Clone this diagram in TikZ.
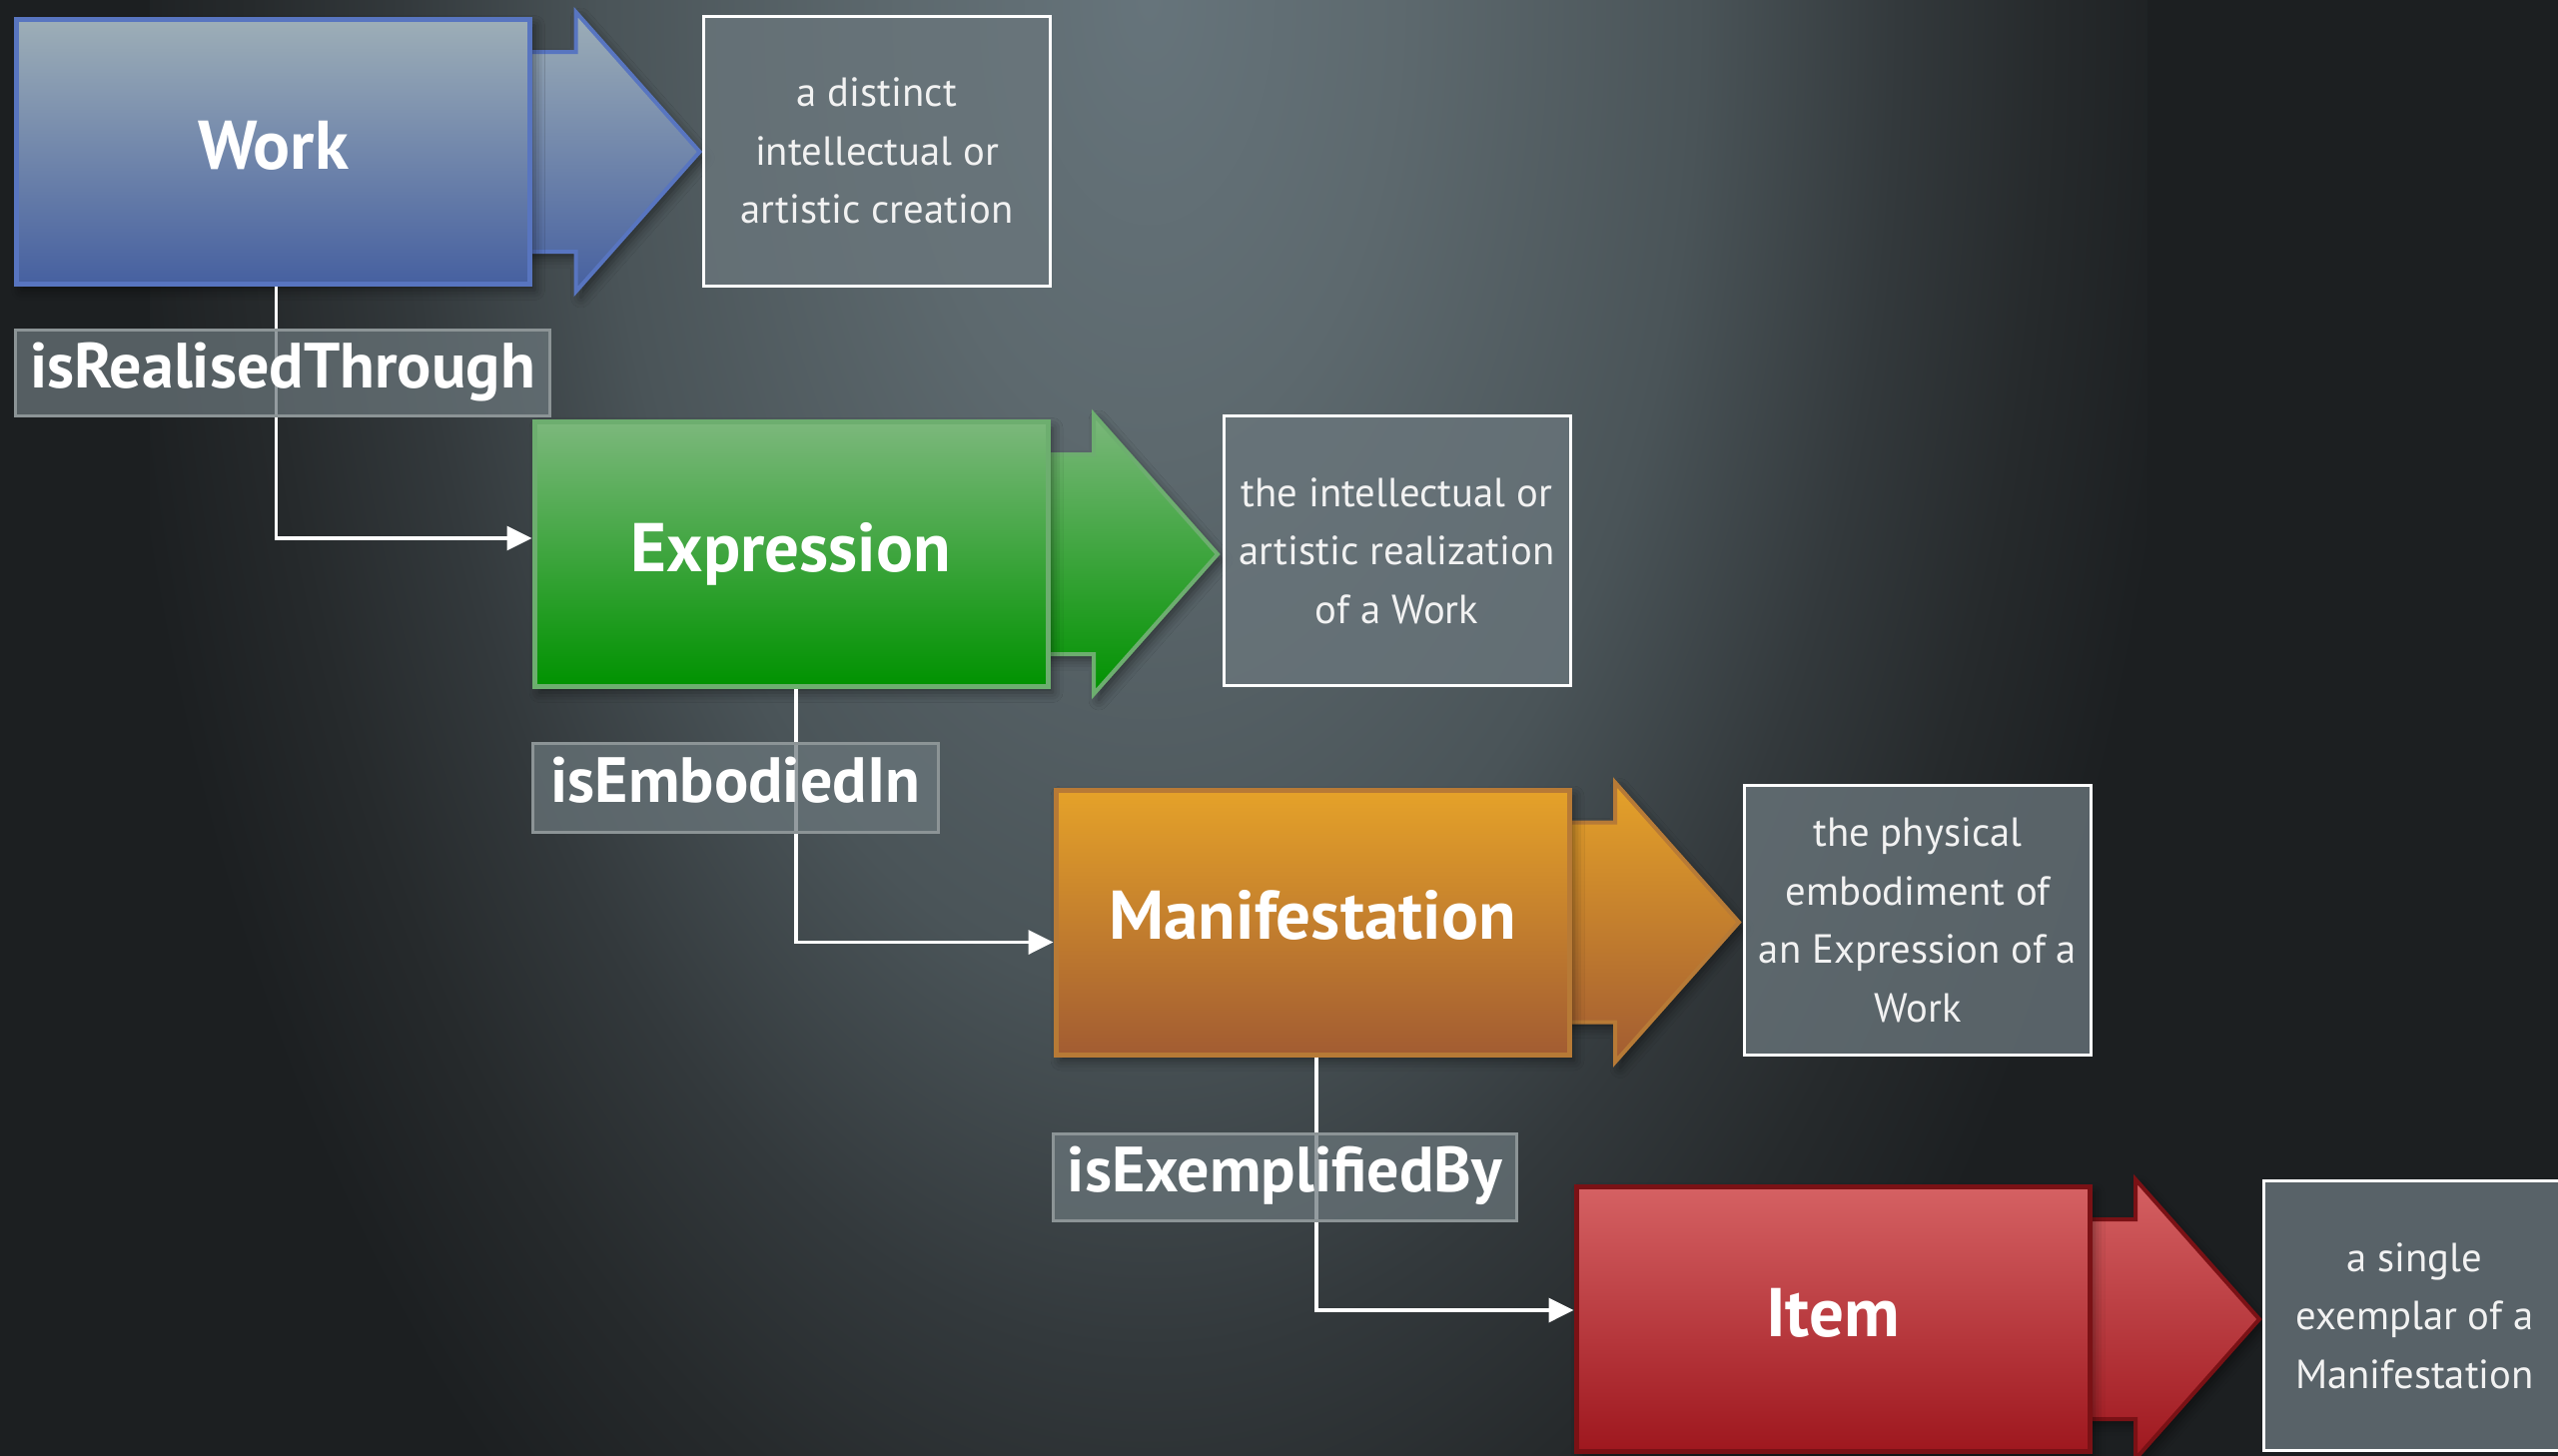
\documentclass[tikz,border=0pt]{standalone}
\usepackage{fontspec}
\setmainfont{PT Sans}
\usetikzlibrary{arrows.meta,calc,shadows.blur}
\definecolor{bgA}{HTML}{66747B}
\definecolor{bgB}{HTML}{5D696E}
\definecolor{bgC}{HTML}{4A5458}
\definecolor{bgD}{HTML}{33393C}
\definecolor{bgE}{HTML}{262A2C}
\definecolor{bgF}{HTML}{1C1F21}
\pgfdeclareradialshading{bglight}{\pgfpoint{0bp}{0bp}}{color(0bp)=(bgA); color(6.25bp)=(bgB); color(13.75bp)=(bgC); color(18.75bp)=(bgD); color(22.5bp)=(bgE); color(26.25bp)=(bgF); color(50bp)=(bgF)}
\definecolor{workTop}{HTML}{9DAEB7}
\definecolor{workBot}{HTML}{4660A0}
\definecolor{workLine}{HTML}{5875C0}
\definecolor{exprTop}{HTML}{7CB87C}
\definecolor{exprBot}{HTML}{009200}
\definecolor{exprLine}{HTML}{6DAE6F}
\definecolor{manTop}{HTML}{E5A229}
\definecolor{manBot}{HTML}{A25C32}
\definecolor{manLine}{HTML}{B77A36}
\definecolor{itemTop}{HTML}{D56163}
\definecolor{itemBot}{HTML}{9E171E}
\definecolor{itemLine}{HTML}{7A1115}
\definecolor{descFill}{HTML}{6A767C}
\definecolor{descText}{HTML}{F2F2F2}
\definecolor{labFill}{HTML}{6B777C}
\definecolor{labLine}{HTML}{8C9496}
\newcommand{\frbrarrow}[4]{%
  \draw[line width=4pt, draw=#4, top color=#2, bottom color=#3, line join=miter, arrshadow]
    ($(#1)+(200,-100)$) -- ($(#1)+(303,-100)$) -- ($(#1)+(303,-140)$)
    -- ($(#1)+(427,0)$) -- ($(#1)+(303,140)$) -- ($(#1)+(303,100)$)
    -- ($(#1)+(200,100)$) -- cycle;}
\begin{document}
\begin{tikzpicture}[x=1pt,y=-1pt,
  entity/.style={rectangle, minimum width=514pt, minimum height=265pt, line width=5pt,
    text=white, font=\fontsize{69}{70}\selectfont\bfseries, text height=47pt, text depth=13pt,
    inner sep=0pt,
    blur shadow={shadow xshift=5pt, shadow yshift=-6pt, shadow blur radius=10pt, shadow opacity=45}},
  arrshadow/.style={blur shadow={shadow xshift=5pt, shadow yshift=-6pt, shadow blur radius=10pt, shadow opacity=45}},
  desc/.style={rectangle, draw=white, line width=3pt, fill=descFill, fill opacity=0.78, text opacity=1,
    text=descText, font=\fontsize{40.7}{58.5}\selectfont, align=center,
    minimum width=347pt, minimum height=270pt, inner sep=0pt},
  rel/.style={rectangle, draw=labLine, line width=3pt, fill=labFill, fill opacity=0.72, text opacity=1,
    text=white, font=\fontsize{64}{66}\selectfont\bfseries, text height=44pt, text depth=15pt,
    inner sep=0pt},
  conn/.style={draw=white, line width=3.5pt, -{Triangle[length=25pt,width=24pt]}}
]
\useasboundingbox (0,0) rectangle (2561,1457);
\clip (-5,-5) rectangle (2566,1462);

% background
\fill[bgF] (-5,-5) rectangle (2566,1462);
\shade[shading=bglight] (150,-1800) rectangle (2150,1800);

% centres of the entity boxes
\coordinate (cwork) at (273.5,152);
\coordinate (cexpr) at (792,555);
\coordinate (cman) at (1314,923.5);
\coordinate (citem) at (1835,1321);

% big arrows behind the boxes
\frbrarrow{cwork}{workTop}{workBot}{workLine}
\frbrarrow{cexpr}{exprTop}{exprBot}{exprLine}
\frbrarrow{cman}{manTop}{manBot}{manLine}
\frbrarrow{citem}{itemTop}{itemBot}{itemLine}

% entity boxes
\node[entity, draw=workLine, top color=workTop, bottom color=workBot] (work) at (cwork) {Work};
\node[entity, draw=exprLine, top color=exprTop, bottom color=exprBot] (expression) at (cexpr) {Expression};
\node[entity, draw=manLine, top color=manTop, bottom color=manBot] (manifestation) at (cman) {Manifestation};
\node[entity, draw=itemLine, top color=itemTop, bottom color=itemBot] (item) at (citem) {Item};

% description boxes
\node[desc] (dwork) at (878,151) {a distinct\\intellectual or\\artistic creation};
\node[desc] (dexpr) at (1398.5,551.5) {the intellectual or\\artistic realization\\of a Work};
\node[desc] (dman) at (1920,921.5) {the physical\\embodiment of\\an Expression of a\\Work};
\node[desc, minimum width=302pt] (ditem) at (2417.5,1317.5) {a single\\exemplar of a\\Manifestation};

% connectors
\draw[conn] ([xshift=3pt]work.south) |- ([yshift=16pt]expression.west);
\draw[conn] ([xshift=5pt]expression.south) |- ([yshift=-20pt]manifestation.west);
\draw[conn] ([xshift=4pt]manifestation.south) |- ([yshift=9pt]item.west);

% relation labels
\node[rel, minimum width=535pt, minimum height=86pt] (lreal) at (283,373.5) {isRealisedThrough};
\node[rel, minimum width=406pt, minimum height=89pt] (lemb) at (736.5,789) {isEmbodiedIn};
\node[rel, minimum width=464pt, minimum height=87pt] (lexe) at (1286.5,1179) {isExemplifiedBy};
\end{tikzpicture}
\end{document}
